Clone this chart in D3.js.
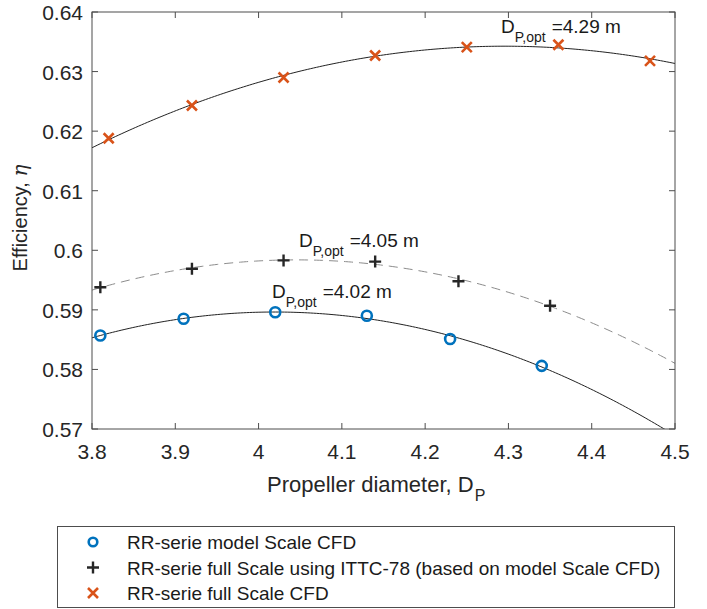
<!DOCTYPE html>
<html>
<head>
<meta charset="utf-8">
<script src="https://cdn.jsdelivr.net/npm/d3@7"></script>
<style>
  html, body { margin: 0; padding: 0; background: #fff; }
  svg { display: block; font-family: "Liberation Sans", Arial, sans-serif; }
</style>
</head>
<body>
<svg id="chart" width="707" height="609"></svg>
<script>
// Propeller diameter D_P [m] and efficiency eta for each series
const modelDiam = [3.81, 3.91, 4.02, 4.13, 4.23, 4.34];
const modelEta  = [0.5857, 0.5885, 0.5896, 0.5890, 0.5851, 0.5806];

const ittcDiam = [3.81, 3.92, 4.03, 4.14, 4.24, 4.35];
const ittcEta  = [0.5938, 0.5969, 0.5983, 0.5981, 0.5948, 0.5907];

const fullDiam = [3.82, 3.92, 4.03, 4.14, 4.25, 4.36, 4.47];
const fullEta  = [0.6188, 0.6243, 0.6290, 0.6327, 0.6341, 0.6345, 0.6318];

const xTicks = [3.8, 3.9, 4.0, 4.1, 4.2, 4.3, 4.4, 4.5];
const yTicks = [0.57, 0.58, 0.59, 0.60, 0.61, 0.62, 0.63, 0.64];

const legendLabels = [
  "RR-serie model Scale CFD",
  "RR-serie full Scale using ITTC-78 (based on model Scale CFD)",
  "RR-serie full Scale CFD"
];
const optValues = ["4.02", "4.05", "4.29"];

const BLUE = "#0072BD", ORANGE = "#D95319", DARK = "#262626", AXIS = "#4d4d4d";

const svg = d3.select("#chart");
const m = { left: 92, right: 675, top: 12, bottom: 429 };

const x = d3.scaleLinear().domain([3.8, 4.5]).range([m.left, m.right]);
const y = d3.scaleLinear().domain([0.57, 0.64]).range([m.bottom, m.top]);

// least-squares quadratic fit  eta = c0 + c1*D + c2*D^2
function quadFit(xs, ys) {
  const S = [0, 0, 0, 0, 0], T = [0, 0, 0];
  xs.forEach((xv, i) => {
    for (let k = 0; k < 5; k++) S[k] += Math.pow(xv, k);
    for (let k = 0; k < 3; k++) T[k] += ys[i] * Math.pow(xv, k);
  });
  const A = [[S[0], S[1], S[2], T[0]], [S[1], S[2], S[3], T[1]], [S[2], S[3], S[4], T[2]]];
  for (let c = 0; c < 3; c++) {
    for (let r = c + 1; r < 3; r++) {
      const f = A[r][c] / A[c][c];
      for (let k = c; k < 4; k++) A[r][k] -= f * A[c][k];
    }
  }
  const sol = [0, 0, 0];
  for (let r = 2; r >= 0; r--) {
    let s = A[r][3];
    for (let k = r + 1; k < 3; k++) s -= A[r][k] * sol[k];
    sol[r] = s / A[r][r];
  }
  return d => sol[0] + sol[1] * d + sol[2] * d * d;
}

svg.append("defs").append("clipPath").attr("id", "plotClip")
  .append("rect").attr("x", m.left).attr("y", m.top)
  .attr("width", m.right - m.left).attr("height", m.bottom - m.top);

const fitDomain = d3.range(0, 201).map(i => 3.8 + 0.7 * i / 200);
const line = d3.line().x(d => x(d[0])).y(d => y(d[1]));
const curves = svg.append("g").attr("clip-path", "url(#plotClip)");

function drawFit(xs, ys, color, dash) {
  const f = quadFit(xs, ys);
  curves.append("path")
    .attr("d", line(fitDomain.map(d => [d, f(d)])))
    .attr("fill", "none").attr("stroke", color).attr("stroke-width", 1)
    .attr("stroke-dasharray", dash || null);
}
drawFit(fullDiam, fullEta, "#222");
drawFit(ittcDiam, ittcEta, "#8c8c8c", "9,6");
drawFit(modelDiam, modelEta, "#222");

// axes box with inward ticks on all four sides
const axisG = svg.append("g").attr("stroke", AXIS).attr("stroke-width", 1);
axisG.append("rect").attr("x", m.left).attr("y", m.top)
  .attr("width", m.right - m.left).attr("height", m.bottom - m.top).attr("fill", "none");
const tl = 6;
xTicks.forEach(t => {
  const px = x(t);
  axisG.append("line").attr("x1", px).attr("x2", px).attr("y1", m.bottom).attr("y2", m.bottom - tl);
  axisG.append("line").attr("x1", px).attr("x2", px).attr("y1", m.top).attr("y2", m.top + tl);
});
yTicks.forEach(t => {
  const py = y(t);
  axisG.append("line").attr("x1", m.left).attr("x2", m.left + tl).attr("y1", py).attr("y2", py);
  axisG.append("line").attr("x1", m.right).attr("x2", m.right - tl).attr("y1", py).attr("y2", py);
});

const fmt = v => String(+v.toFixed(2));
svg.append("g").selectAll("text").data(xTicks).join("text")
  .attr("x", d => x(d)).attr("y", m.bottom + 30)
  .attr("text-anchor", "middle").attr("font-size", 21).attr("fill", "#262626")
  .text(fmt);
svg.append("g").selectAll("text").data(yTicks).join("text")
  .attr("x", m.left - 9).attr("y", d => y(d) + 8)
  .attr("text-anchor", "end").attr("font-size", 21).attr("fill", "#262626")
  .text(fmt);

// axis titles
const xt = svg.append("text").attr("x", 267).attr("y", 492)
  .attr("font-size", 22).attr("fill", "#262626");
xt.append("tspan").text("Propeller diameter, D");
xt.append("tspan").attr("dy", 9).attr("dx", 1).attr("font-size", 16).text("P");

const yt = svg.append("text").attr("transform", "translate(27,218) rotate(-90)")
  .attr("text-anchor", "middle").attr("font-size", 20).attr("fill", "#262626");
yt.append("tspan").text("Efficiency, ");
yt.append("tspan").attr("font-style", "italic").attr("font-family", "DejaVu Serif, serif").text("η");

// markers
const markG = svg.append("g");
function circleMark(g, cx, cy, r) {
  g.append("circle").attr("cx", cx).attr("cy", cy).attr("r", r || 5)
    .attr("fill", "none").attr("stroke", BLUE).attr("stroke-width", 2.6);
}
function plusMark(g, cx, cy) {
  const s = 6;
  g.append("path").attr("d", `M${cx - s},${cy}H${cx + s}M${cx},${cy - s}V${cy + s}`)
    .attr("stroke", DARK).attr("stroke-width", 2.4);
}
function crossMark(g, cx, cy) {
  const s = 5;
  g.append("path").attr("d", `M${cx - s},${cy - s}L${cx + s},${cy + s}M${cx - s},${cy + s}L${cx + s},${cy - s}`)
    .attr("stroke", ORANGE).attr("stroke-width", 2.6);
}
modelDiam.forEach((d, i) => circleMark(markG, x(d), y(modelEta[i])));
ittcDiam.forEach((d, i) => plusMark(markG, x(d), y(ittcEta[i])));
fullDiam.forEach((d, i) => crossMark(markG, x(d), y(fullEta[i])));

// optimum-diameter annotations
function optLabel(px, py, val) {
  const t = svg.append("text").attr("x", px).attr("y", py)
    .attr("font-size", 19).attr("fill", "#1a1a1a");
  t.append("tspan").text("D");
  t.append("tspan").attr("dy", 9).attr("font-size", 14).text("P,opt");
  t.append("tspan").attr("dy", -9).attr("dx", 6).text("=" + val + " m");
}
optLabel(272, 298, optValues[0]);
optLabel(299, 247, optValues[1]);
optLabel(501, 33, optValues[2]);

// legend
const lg = svg.append("g");
lg.append("rect").attr("x", 57.5).attr("y", 526.5).attr("width", 617).attr("height", 81)
  .attr("fill", "#fff").attr("stroke", AXIS).attr("stroke-width", 1);
const rowsY = [542, 567.5, 593];
circleMark(lg, 93, rowsY[0], 4.3);
plusMark(lg, 93, rowsY[1]);
crossMark(lg, 93, rowsY[2]);
lg.selectAll("text").data(legendLabels).join("text")
  .attr("x", 127).attr("y", (d, i) => rowsY[i] + 7)
  .attr("font-size", 19).attr("fill", "#1a1a1a").text(d => d);
</script>
</body>
</html>
